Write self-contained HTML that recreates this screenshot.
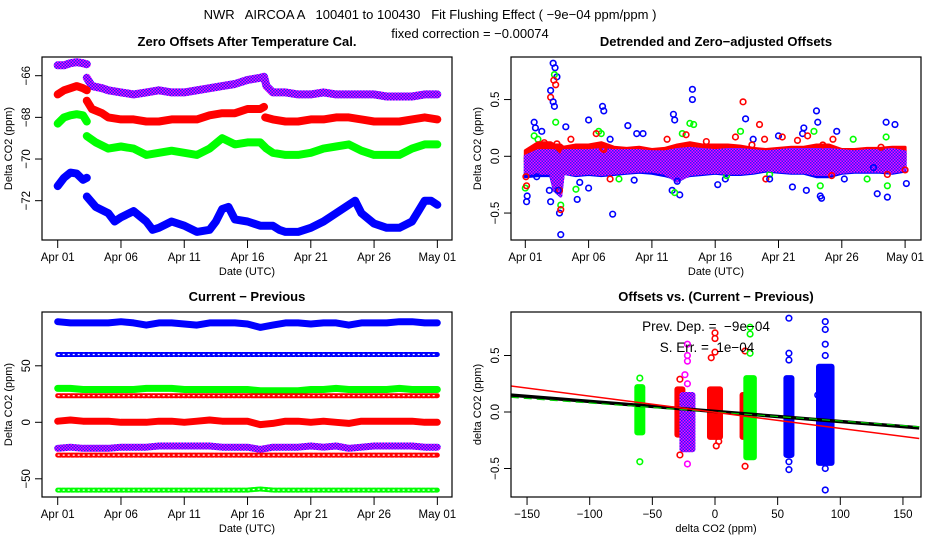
<!DOCTYPE html>
<html><head><meta charset="utf-8"><style>
html,body{margin:0;padding:0;background:#fff}
svg{display:block;font-family:"Liberation Sans",sans-serif}
text{white-space:pre}
</style></head><body>
<svg id="chart" width="936" height="540" viewBox="0 0 936 540" xmlns="http://www.w3.org/2000/svg">
<defs>
<pattern id="pp" width="3" height="3" patternUnits="userSpaceOnUse">
<rect width="3" height="3" fill="#ff00ff"/><rect x="0" y="0" width="1.5" height="1.5" fill="#2020ff"/><rect x="1.5" y="1.5" width="1.5" height="1.5" fill="#2020ff"/>
</pattern>
<clipPath id="c1"><rect x="42" y="57" width="410" height="183"/></clipPath>
<clipPath id="c2"><rect x="511" y="57" width="410" height="183"/></clipPath>
<clipPath id="c3"><rect x="42" y="312" width="410" height="185"/></clipPath>
<clipPath id="c4"><rect x="511" y="312" width="410" height="185"/></clipPath>
</defs>
<rect width="936" height="540" fill="#fff"/>
<text x="430" y="19" text-anchor="middle" font-size="13" xml:space="preserve">NWR   AIRCOA A   100401 to 100430   Fit Flushing Effect ( −9e−04 ppm/ppm )</text>
<text x="470" y="38" text-anchor="middle" font-size="13">fixed correction = −0.00074</text>
<g id="g1" clip-path="url(#c1)"></g>
<g id="g2" clip-path="url(#c2)"></g>
<g id="g3" clip-path="url(#c3)"></g>
<g id="g4" clip-path="url(#c4)"></g>
<g id="axes"></g>
</svg>
<script>
// ---------- data ----------
const dateTicks = [0,5,10,15,20,25,30];
const dateTickLabels = ["Apr 01","Apr 06","Apr 11","Apr 16","Apr 21","Apr 26","May 01"];
const p1YTicks = [-66,-68,-70,-72];
const p2YTicks = [0.5,0.0,-0.5];
const p2YTickLabels = ["0.5","0.0","−0.5"];
const p3YTicks = [50,0,-50];
const p3YTickLabels = ["50","0","−50"];
const p4XTicks = [-150,-100,-50,0,50,100,150];
const p4XTickLabels = ["−150","−100","−50","0","50","100","150"];
const p4YTicks = [0.5,0.0,-0.5];

// Panel 1: zero offsets (day, value); NaN = gap
const p1PurpleDay = [0,0.5,1,1.5,2,2.3,NaN,2.3,2.7,3.5,4,5,6,7,8,9,10,11,12,13,14,15,16,16.3,16.5,17,18,19,20,21,22,23,24,25,26,27,28,29,30];
const p1PurpleVal = [-65.5,-65.5,-65.4,-65.35,-65.4,-65.45,NaN,-66.1,-66.5,-66.6,-66.7,-66.8,-66.9,-66.8,-66.7,-66.8,-66.8,-66.7,-66.6,-66.5,-66.4,-66.2,-66.1,-66.05,-66.5,-66.8,-66.8,-66.9,-66.9,-66.8,-66.9,-66.9,-66.9,-66.9,-67,-67,-67,-66.9,-66.9];
const p1RedDay = [0,0.5,1,1.5,2,2.3,NaN,2.3,2.7,3.5,4,5,6,7,8,9,10,11,12,13,14,15,16,16.3,NaN,16.4,17,18,19,20,21,22,23,24,25,26,27,28,29,30];
const p1RedVal = [-66.9,-66.7,-66.6,-66.5,-66.6,-66.7,NaN,-67.2,-67.6,-67.8,-68,-68.1,-68.1,-68.2,-68.2,-68.1,-68.1,-68.1,-67.9,-67.8,-67.8,-67.6,-67.6,-67.5,NaN,-68.0,-68.1,-68.2,-68.2,-68.1,-68.1,-68,-68,-68.1,-68.2,-68.2,-68.2,-68.1,-68,-68.1];
const p1GreenDay = [0,0.5,1,1.5,2,2.3,NaN,2.3,3,4,5,6,7,8,9,10,11,12,13,14,15,16,16.5,17,18,19,20,21,22,23,24,25,26,27,28,29,30];
const p1GreenVal = [-68.3,-68.0,-67.9,-67.85,-67.9,-68.2,NaN,-68.9,-69.2,-69.5,-69.4,-69.5,-69.8,-69.7,-69.6,-69.7,-69.8,-69.5,-69.0,-69.3,-69.2,-69.2,-69.5,-69.7,-69.8,-69.8,-69.7,-69.5,-69.4,-69.3,-69.6,-69.8,-69.8,-69.8,-69.5,-69.3,-69.3];
const p1BlueDay = [0,0.5,1,1.5,2,2.3,NaN,2.3,3,4,4.5,5,6,7,7.5,8,9,10,11,12,12.5,13,13.5,14,15,16,17,17.5,18,19,20,21,22,23,23.5,24,25,26,27,28,28.5,29,29.5,30];
const p1BlueVal = [-71.3,-70.9,-70.65,-70.7,-71.0,-70.9,NaN,-71.8,-72.3,-72.6,-73.0,-72.8,-72.5,-73.0,-73.4,-73.3,-73.0,-73.2,-73.5,-73.4,-73.0,-72.4,-72.3,-72.9,-73.0,-73.2,-73.2,-73.4,-73.5,-73.5,-73.3,-73.0,-72.6,-72.2,-72.0,-72.6,-73.1,-73.3,-73.3,-73.0,-72.5,-72.0,-72.0,-72.2];

// Panel 2: detrended offsets — dense bands (daily low/high) and outliers
const p2BandDays = [0,1,2,2.3,2.8,3,4,5,6,7,8,9,10,11,12,13,14,15,16,17,18,19,20,21,22,23,24,25,26,27,28,29,30];
const p2BlueLow  = [-0.18,-0.17,-0.17,-0.3,-0.35,-0.15,-0.17,-0.16,-0.17,-0.16,-0.15,-0.14,-0.15,-0.17,-0.2,-0.17,-0.16,-0.15,-0.16,-0.16,-0.15,-0.13,-0.14,-0.15,-0.15,-0.18,-0.18,-0.15,-0.14,-0.14,-0.14,-0.15,-0.13];
const p2BlueHigh = [0.0,0.08,0.08,0.08,0.05,0.05,0.06,0.06,0.07,0.06,0.06,0.05,0.05,0.05,0.07,0.08,0.07,0.06,0.07,0.07,0.06,0.05,0.06,0.06,0.07,0.07,0.07,0.06,0.05,0.06,0.06,0.06,0.05];
const p2RedLow  = [-0.05,0.0,0.0,-0.2,-0.3,-0.05,-0.05,-0.05,-0.03,-0.04,-0.04,-0.03,-0.03,-0.05,-0.06,-0.05,-0.04,-0.04,-0.05,-0.04,-0.04,-0.03,-0.04,-0.04,-0.04,-0.05,-0.05,-0.04,-0.04,-0.04,-0.04,-0.04,-0.04];
const p2RedHigh = [0.05,0.12,0.12,0.1,0.1,0.08,0.1,0.1,0.12,0.08,0.07,0.08,0.06,0.07,0.1,0.12,0.1,0.1,0.1,0.09,0.07,0.06,0.07,0.08,0.08,0.1,0.1,0.06,0.06,0.07,0.07,0.08,0.08];
const p2PurpleLow  = [-0.15,-0.15,-0.15,-0.3,-0.35,-0.15,-0.16,-0.15,-0.16,-0.15,-0.14,-0.13,-0.13,-0.15,-0.22,-0.16,-0.15,-0.14,-0.15,-0.15,-0.14,-0.12,-0.13,-0.14,-0.14,-0.16,-0.16,-0.14,-0.13,-0.13,-0.13,-0.14,-0.12];
const p2PurpleHigh = [0.0,0.05,0.05,0.05,0.0,0.05,0.05,0.05,0.06,0.05,0.05,0.05,0.04,0.04,0.06,0.07,0.06,0.05,0.06,0.06,0.05,0.04,0.05,0.06,0.06,0.06,0.06,0.05,0.04,0.05,0.05,0.06,0.04];
const p2BlueOutDay = [0.1,0.15,0.7,0.8,1.3,1.9,2.0,2.2,2.35,2.5,2.7,2.8,3.2,4.1,4.3,5.0,5.0,6.1,6.2,6.9,8.6,8.1,9.3,11.6,11.7,11.8,12.2,13.2,13.2,15.2,15.8,18.0,20.0,21.1,21.9,22.2,23.0,23.1,23.3,23.4,24.6,25.2,28.5,28.6,27.8,29.2,30.1];
const p2BlueOutVal = [-0.4,-0.35,0.3,0.25,0.22,-0.3,-0.4,0.82,0.78,0.7,-0.5,-0.69,0.26,-0.38,-0.23,0.32,-0.28,0.44,0.4,-0.51,-0.21,0.27,0.2,-0.3,0.37,0.32,-0.34,0.59,0.5,-0.25,-0.2,0.15,0.18,-0.27,0.2,-0.3,0.4,0.3,-0.35,-0.37,0.22,-0.2,0.3,-0.36,-0.33,0.28,-0.24];
const p2GreenOutDay = [0,0.7,2.3,2.4,2.8,4.0,5.8,7.4,11.8,12.4,13.0,13.3,15.9,17.0,19.3,22.8,23.3,25.9,27.0,28.5,28.6,6.0,1.0];
const p2GreenOutVal = [-0.28,0.18,0.72,0.3,-0.43,-0.29,0.22,-0.2,-0.32,0.2,0.29,0.28,-0.17,0.22,-0.16,0.22,-0.26,0.15,-0.2,0.17,-0.26,0.2,0.15];
const p2RedOutDay = [0.05,0.1,2.0,2.25,2.4,2.5,2.7,2.8,3.6,5.6,6.1,6.7,11.2,12.7,14.3,16.6,17.2,17.9,18.5,18.9,19.0,20.3,21.5,22.3,23.5,24.3,24.2,28.1,28.6,30.0,1.5,6.2];
const p2RedOutVal = [-0.18,-0.26,0.52,0.67,0.63,0.11,-0.3,-0.47,0.15,0.2,0.07,-0.2,0.15,0.19,0.13,0.17,0.48,0.1,0.28,0.15,-0.2,0.17,0.14,0.18,0.1,0.15,-0.17,0.08,-0.16,-0.12,0.12,0.06];
const p2PurpleOutDay = [0.9,2.0,2.2,2.3,2.6,6.7,8.8,12.0,17.4,19.3,22.0,27.5];
const p2PurpleOutVal = [-0.18,0.58,0.48,0.44,-0.3,0.15,0.2,-0.22,0.33,-0.2,0.25,-0.1];

// Panel 3: current - previous (daily values)
const p3Days = [0,1,2,3,4,5,6,7,8,9,10,11,12,13,14,15,16,17,18,19,20,21,22,23,24,25,26,27,28,29,30];
const p3Blue1  = [89,88,88,88,88,89,88,86,88,88,87,86,88,88,88,87,84,86,88,88,87,88,88,86,88,88,88,89,89,88,88];
const p3Blue2  = [60,60,60,60,60,60,60,60,60,60,60,60,60,60,60,60,60,60,60,60,60,60,60,60,60,60,60,60,60,60,60];
const p3Green1 = [30,30,29,29,29,29,29,30,30,30,29,29,29,29,29,29,28,28,28,28,29,29,30,29,29,29,29,30,29,29,29];
const p3Red1   = [23.5,23.5,23.5,23.5,23.5,23.5,23.5,23.5,23.5,23.5,23.5,23.5,23.5,23.5,23.5,23.5,23.5,23.5,23.5,23.5,23.5,23.5,23.5,23.5,23.5,23.5,23.5,23.5,23.5,23.5,23.5];
const p3Red2   = [1,2,1,1,1,0,0,0,1,1,0,1,2,1,1,1,-2,-1,1,1,0,1,0,-1,1,1,1,1,1,0,0];
const p3Purple = [-23,-22,-23,-23,-23,-22,-22,-22,-21,-21,-21,-21,-21,-22,-22,-22,-24,-22,-22,-22,-21,-22,-21,-23,-22,-21,-21,-21,-21,-22,-22];
const p3Red3   = [-29,-29,-29,-29,-29,-29,-29,-29,-29,-29,-29,-29,-29,-29,-29,-29,-29,-29,-29,-29,-29,-29,-29,-29,-29,-29,-29,-29,-29,-29,-29];
const p3Green2 = [-60,-60,-60,-60,-60,-60,-60,-60,-60,-60,-60,-60,-60,-60,-60,-60,-59,-60,-60,-60,-60,-60,-60,-60,-60,-60,-60,-60,-60,-60,-60];

// Panel 4: offsets vs (current - previous)
const p4ColColor = ["green","red","purple","red","red","green","blue","blue"];
const p4ColX    = [-60,-28,-22,0,24,28,59,88];
const p4ColHalfW = [2,2,4,4,2,3,2,5];
const p4ColYMin = [-0.18,-0.2,-0.33,-0.22,-0.22,-0.4,-0.38,-0.45];
const p4ColYMax = [0.22,0.2,0.15,0.2,0.15,0.3,0.3,0.4];
const p4OutX = [-60,-60,-28,-28,-22,-22,-22,-24,-22,-22,0,0,0,-3,1,3,24,24,28,28,28,59,59,59,59,59,88,88,88,88,88,88,82];
const p4OutY = [0.3,-0.44,0.29,-0.38,0.6,0.5,0.45,0.33,0.25,-0.46,0.7,0.65,0.53,0.48,-0.3,-0.26,0.54,-0.48,0.75,0.69,0.52,0.83,0.52,0.46,-0.44,-0.51,0.8,0.73,0.6,0.5,-0.5,-0.69,0.15];
const p4OutColor = ["green","green","red","red","purple","purple","purple","purple","purple","purple","red","red","red","red","red","red","red","red","green","green","green","blue","blue","blue","blue","blue","blue","blue","blue","blue","blue","blue","blue"];
const p4LineX = [-163,163];
const p4BlackY = [0.15,-0.14];
const p4GreenY = [0.13,-0.13];
const p4RedY = [0.23,-0.235];

// ---------- rendering ----------
const NS = "http://www.w3.org/2000/svg";
const COL = {blue:"#0000ff", red:"#ff0000", green:"#00ff00", purple:"url(#pp)"};
function mk(tag, attrs, parent){ const e=document.createElementNS(NS,tag); for(const k in attrs) e.setAttribute(k,attrs[k]); parent.appendChild(e); return e; }
const axes = document.getElementById("axes");

const P1 = {x0:42,x1:452,y0:57,y1:240, sx:d=>57.7+d*12.655, sy:v=>75.7+(-66-v)*20.83};
const P2 = {x0:511,x1:921,y0:57,y1:240, sx:d=>525.3+d*12.66, sy:v=>156.3-v*113.5};
const P3 = {x0:42,x1:452,y0:312,y1:497, sx:d=>57.7+d*12.655, sy:v=>422.3-v*1.13};
const P4 = {x0:511,x1:921,y0:312,y1:497, sx:x=>715+x*1.253, sy:v=>412-v*113};

function frame(P, name, title, xt, xtl, yt, ytl, xtitle, ytitle){
  let e = mk("rect",{x:P.x0,y:P.y0,width:P.x1-P.x0,height:P.y1-P.y0,fill:"none",stroke:"#000","stroke-width":1.2},axes);
  
  
  e = mk("text",{x:(P.x0+P.x1)/2,y:P.y0-11,"text-anchor":"middle","font-size":13,"font-weight":"bold"},axes);
  e.textContent = title;
  
  
  e = mk("line",{x1:P.sx(xt[0]),x2:P.sx(xt[xt.length-1]),y1:P.y1,y2:P.y1,stroke:"#000"},axes);
  xt.forEach((t,i)=>{
    const x=P.sx(t);
    let l = mk("line",{x1:x,x2:x,y1:P.y1,y2:P.y1+8,stroke:"#000"},axes);
    
    
    let tx = mk("text",{x:x,y:P.y1+21,"text-anchor":"middle","font-size":11.5},axes);
    tx.textContent = xtl[i];
    
    
  });
  mk("line",{x1:P.x0,x2:P.x0,y1:P.sy(yt[0]),y2:P.sy(yt[yt.length-1]),stroke:"#000"},axes);
  yt.forEach((t,i)=>{
    const y=P.sy(t);
    let l = mk("line",{x1:P.x0-7,x2:P.x0,y1:y,y2:y,stroke:"#000"},axes);
    
    
    let tx = mk("text",{x:0,y:0,"text-anchor":"middle","font-size":11.5,transform:`translate(${P.x0-12},${y}) rotate(-90)`},axes);
    tx.textContent = ytl[i];
    
    
  });
  let xtt = mk("text",{x:(P.x0+P.x1)/2,y:P.y1+35,"text-anchor":"middle","font-size":11},axes);
  xtt.textContent = xtitle;
  
  
  let ytt = mk("text",{x:0,y:0,"text-anchor":"middle","font-size":11,transform:`translate(${P.x0-30},${(P.y0+P.y1)/2}) rotate(-90)`},axes);
  ytt.textContent = ytitle;
  
  
}
frame(P1,"zero-offsets","Zero Offsets After Temperature Cal.",dateTicks,dateTickLabels,p1YTicks,p1YTicks.map(String).map(s=>s.replace("-","−")),"Date (UTC)","Delta CO2 (ppm)");
frame(P2,"detrended","Detrended and Zero−adjusted Offsets",dateTicks,dateTickLabels,p2YTicks,p2YTickLabels,"Date (UTC)","Delta CO2 (ppm)");
frame(P3,"current-previous","Current − Previous",dateTicks,dateTickLabels,p3YTicks,p3YTickLabels,"Date (UTC)","Delta CO2 (ppm)");
frame(P4,"offsets-vs-diff","Offsets vs. (Current − Previous)",p4XTicks,p4XTickLabels,p4YTicks,p2YTickLabels,"delta CO2 (ppm)","delta CO2 (ppm)");

function pathD(P, xs, ys){
  let d="", pen=false;
  for(let i=0;i<xs.length;i++){
    if(isNaN(xs[i])||isNaN(ys[i])){pen=false;continue;}
    d += (pen?"L":"M")+P.sx(xs[i]).toFixed(1)+","+P.sy(ys[i]).toFixed(1);
    pen=true;
  }
  return d;
}
// Panel 1
const g1=document.getElementById("g1");
[[p1PurpleDay,p1PurpleVal,"purple",8],[p1RedDay,p1RedVal,"red",8],[p1GreenDay,p1GreenVal,"green",8],[p1BlueDay,p1BlueVal,"blue",8]].forEach(s=>{
  const p = mk("path",{d:pathD(P1,s[0],s[1]),fill:"none",stroke:COL[s[2]],"stroke-width":s[3],"stroke-linejoin":"round","stroke-linecap":"round"},g1);
  
  
});
// Panel 2
const g2=document.getElementById("g2");
function band(P,g,days,lo,hi,color,name){
  let d="";
  days.forEach((t,i)=>{d+=(i?"L":"M")+P.sx(t).toFixed(1)+","+P.sy(hi[i]).toFixed(1);});
  for(let i=days.length-1;i>=0;i--) d+="L"+P.sx(days[i]).toFixed(1)+","+P.sy(lo[i]).toFixed(1);
  d+="Z";
  const p = mk("path",{d:d,fill:COL[color],stroke:COL[color],"stroke-width":3,"stroke-linejoin":"round"},g);
  
  
}
function pts(P,g,xs,ys,color,name){
  xs.forEach((x,i)=>{
    const c = mk("circle",{cx:P.sx(x),cy:P.sy(ys[i]),r:2.8,fill:"none",stroke:COL[color],"stroke-width":1.6},g);
    
    
  });
}
band(P2,g2,p2BandDays,p2BlueLow,p2BlueHigh,"blue","detrended-band-blue");
pts(P2,g2,p2BlueOutDay,p2BlueOutVal,"blue","detrended-point-blue");
pts(P2,g2,p2GreenOutDay,p2GreenOutVal,"green","detrended-point-green");
band(P2,g2,p2BandDays,p2RedLow,p2RedHigh,"red","detrended-band-red");
band(P2,g2,p2BandDays,p2PurpleLow,p2PurpleHigh,"purple","detrended-band-purple");
pts(P2,g2,p2RedOutDay,p2RedOutVal,"red","detrended-point-red");
pts(P2,g2,p2PurpleOutDay,p2PurpleOutVal,"blue","detrended-point-purple");
// Panel 3
const g3=document.getElementById("g3");
[[p3Blue1,"blue",7,0],[p3Blue2,"blue",5,1],[p3Green1,"green",7,0],[p3Red1,"red",5,1],[p3Red2,"red",7,0],[p3Purple,"purple",7,0],[p3Red3,"red",5,1],[p3Green2,"green",5,1]].forEach((s,k)=>{
  const p = mk("path",{d:pathD(P3,p3Days,s[0]),fill:"none",stroke:COL[s[1]],"stroke-width":s[2],"stroke-linejoin":"round","stroke-linecap":"round"},g3);
  if(s[3]) p.setAttribute("stroke-dasharray","3,1.5");
  
  
  if(s[3]){
    const w = mk("path",{d:pathD(P3,p3Days,s[0]),fill:"none",stroke:"#fff","stroke-width":1.2,"stroke-dasharray":"2,3"},g3);
    
    
  }
});
// Panel 4
const g4=document.getElementById("g4");
p4ColX.forEach((x,i)=>{
  const c = p4ColColor[i];
  const r = mk("rect",{x:P4.sx(x-p4ColHalfW[i])-3,y:P4.sy(p4ColYMax[i])-3,width:P4.sx(x+p4ColHalfW[i])-P4.sx(x-p4ColHalfW[i])+6,height:P4.sy(p4ColYMin[i])-P4.sy(p4ColYMax[i])+6,rx:3,fill:COL[c]},g4);
  
  
});
p4OutX.forEach((x,i)=>{
  const c = mk("circle",{cx:P4.sx(x),cy:P4.sy(p4OutY[i]),r:2.8,fill:"none",stroke:p4OutColor[i]==="purple"?"#ff00ff":COL[p4OutColor[i]],"stroke-width":1.6},g4);
  
  
});
let fl = mk("line",{x1:P4.sx(p4LineX[0]),x2:P4.sx(p4LineX[1]),y1:P4.sy(p4BlackY[0]),y2:P4.sy(p4BlackY[1]),stroke:"#000","stroke-width":3.5},g4);


fl = mk("line",{x1:P4.sx(p4LineX[0]),x2:P4.sx(p4LineX[1]),y1:P4.sy(p4GreenY[0]),y2:P4.sy(p4GreenY[1]),stroke:"#00cc00","stroke-width":1.2,"stroke-dasharray":"8,5"},g4);


fl = mk("line",{x1:P4.sx(p4LineX[0]),x2:P4.sx(p4LineX[1]),y1:P4.sy(p4RedY[0]),y2:P4.sy(p4RedY[1]),stroke:"#ff0000","stroke-width":1.5},g4);


let t = mk("text",{x:706,y:331,"text-anchor":"middle","font-size":13.5},axes);
t.textContent = "Prev. Dep. =  −9e−04";


t = mk("text",{x:707,y:352,"text-anchor":"middle","font-size":13.5},axes);
t.textContent = "S. Err. =  1e−04";


</script>
</body></html>
